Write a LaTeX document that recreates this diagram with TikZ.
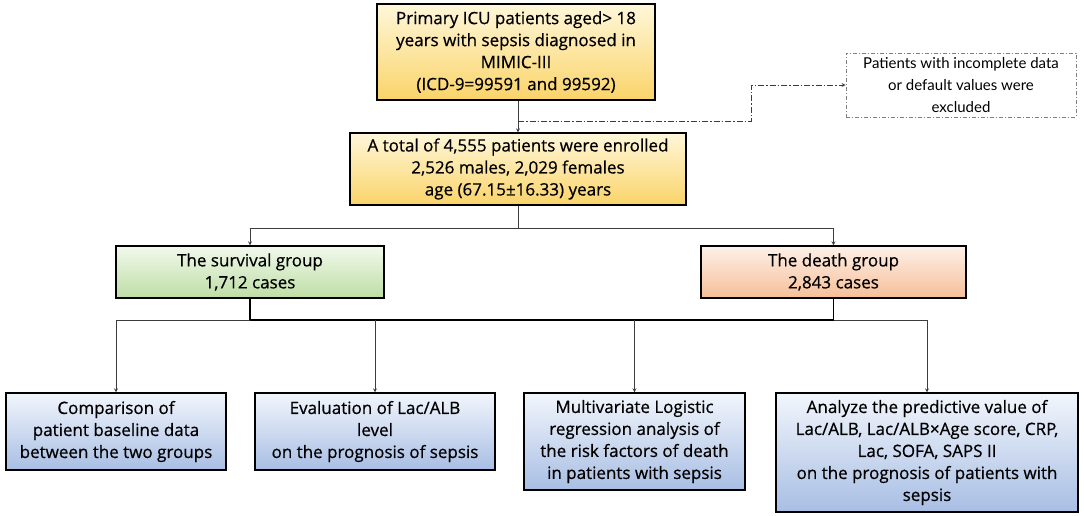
\documentclass[tikz,border=0pt]{standalone}
\usepackage{fontspec}
\setmainfont{Open Sans}[FakeBold=0.6]
\newfontfamily\notefont{Lato}
\usetikzlibrary{arrows, positioning}
\definecolor{ylwtop}{RGB}{255,247,218}
\definecolor{ylwbot}{RGB}{250,212,105}
\definecolor{grntop}{RGB}{242,249,236}
\definecolor{grnbot}{RGB}{190,222,165}
\definecolor{orgtop}{RGB}{253,241,232}
\definecolor{orgbot}{RGB}{246,190,152}
\definecolor{blutop}{RGB}{242,246,252}
\definecolor{blubot}{RGB}{168,190,228}
\definecolor{linegray}{RGB}{60,60,60}
\tikzstyle{boxbase} = [rectangle, draw=black, line width=1.2pt, align=center, inner sep=2pt, font=\fontsize{17}{22}\selectfont]
\tikzstyle{inputbox} = [boxbase, top color=ylwtop, bottom color=ylwbot]
\tikzstyle{survbox} = [boxbase, top color=grntop, bottom color=grnbot, minimum width=268pt, minimum height=52pt]
\tikzstyle{deathbox} = [boxbase, top color=orgtop, bottom color=orgbot, minimum width=265pt, minimum height=52pt]
\tikzstyle{aimbox} = [boxbase, top color=blutop, bottom color=blubot]
\tikzstyle{notebox} = [rectangle, draw=gray, line width=0.7pt, dash pattern=on 4pt off 2pt on 1pt off 2pt, align=center, font=\notefont\fontsize{15}{22}\selectfont, minimum width=230pt, minimum height=64pt]
\tikzstyle{arrow} = [linegray, line width=0.8pt, ->, >=stealth]
\tikzstyle{dasharrow} = [arrow, dash pattern=on 6pt off 2pt on 1.5pt off 2pt]
\tikzstyle{bus} = [black, line width=1.8pt]

\begin{document}
\begin{tikzpicture}[x=1pt, y=-1pt]
  \useasboundingbox (0,0) rectangle (1084,515);
  \node (prim) [inputbox, minimum width=278pt, minimum height=96pt] at (516,52) {Primary ICU patients aged> 18\\years with sepsis diagnosed in\\MIMIC-III\\(ICD-9=99591 and 99592)};
  \node (total) [inputbox, minimum width=336pt, minimum height=72pt] at (518,169) {A total of 4,555 patients were enrolled\\2,526 males, 2,029 females\\age (67.15±16.33) years};
  \node (excl) [notebox] at (961,85) {Patients with incomplete data\\or default values were\\excluded};
  \node (surv) [survbox] at (250,272) {The survival group\\1,712 cases};
  \node (death) [deathbox] at (833.5,272) {The death group\\2,843 cases};
  \node (comp) [aimbox, minimum width=220pt, minimum height=77pt] at (116,431.5) {Comparison of\\patient baseline data\\between the two groups};
  \node (eval) [aimbox, minimum width=240pt, minimum height=77pt] at (375,431.5) {Evaluation of Lac/ALB\\level\\on the prognosis of sepsis};
  \node (multi) [aimbox, minimum width=221pt, minimum height=97pt] at (634.5,441.5) {Multivariate Logistic\\regression analysis of\\the risk factors of death\\in patients with sepsis};
  \node (pred) [aimbox, minimum width=302pt, minimum height=119pt] at (927,452.5) {Analyze the predictive value of\\Lac/ALB, Lac/ALB×Age score, CRP,\\Lac, SOFA, SAPS II\\on the prognosis of patients with\\sepsis};

  \coordinate (split) at (518,121);
  \coordinate (fork) at (518,228);
  \coordinate (drop) at (0,320);

  \draw [arrow] (prim.south -| split) -- (total.north -| split);
  \draw [dasharrow] (split) -- ++(233,0) |- (excl.west);
  \draw [linegray, line width=0.8pt] (total.south -| fork) -- (fork);
  \draw [arrow] (fork) -| (surv.north);
  \draw [arrow] (fork) -| (death.north);
  \draw [bus] (surv.south) -- ++(0,21) -| (death.south);
  \draw [arrow] (surv.south |- drop) -| (comp.north);
  \draw [arrow] (eval.north |- drop) -- (eval.north);
  \draw [arrow] (multi.north |- drop) -- (multi.north);
  \draw [arrow] (death.south |- drop) -| (pred.north);
\end{tikzpicture}
\end{document}
